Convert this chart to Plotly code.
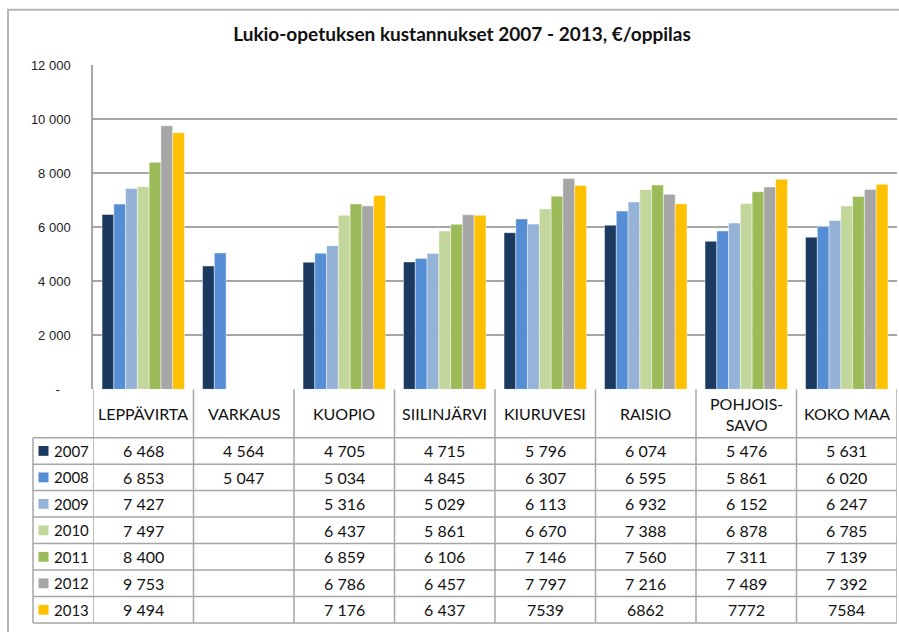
import plotly.graph_objects as go

# ---------------- data ----------------
categories = ["LEPPÄVIRTA", "VARKAUS", "KUOPIO", "SIILINJÄRVI", "KIURUVESI",
              "RAISIO", "POHJOIS-SAVO", "KOKO MAA"]
header_labels = ["LEPPÄVIRTA", "VARKAUS", "KUOPIO", "SIILINJÄRVI", "KIURUVESI",
                 "RAISIO", "POHJOIS-<br>SAVO", "KOKO MAA"]
years = ["2007", "2008", "2009", "2010", "2011", "2012", "2013"]

v2007 = [6468, 4564, 4705, 4715, 5796, 6074, 5476, 5631]
v2008 = [6853, 5047, 5034, 4845, 6307, 6595, 5861, 6020]
v2009 = [7427, None, 5316, 5029, 6113, 6932, 6152, 6247]
v2010 = [7497, None, 6437, 5861, 6670, 7388, 6878, 6785]
v2011 = [8400, None, 6859, 6106, 7146, 7560, 7311, 7139]
v2012 = [9753, None, 6786, 6457, 7797, 7216, 7489, 7392]
v2013 = [9494, None, 7176, 6437, 7539, 6862, 7772, 7584]
series = [v2007, v2008, v2009, v2010, v2011, v2012, v2013]

# cells of the 2013 row printed without thousands separator in the original
plain_2013 = ["KIURUVESI", "RAISIO", "POHJOIS-SAVO", "KOKO MAA"]

y_tickvals = [0, 2000, 4000, 6000, 8000, 10000, 12000]
y_ticktext = ["-\u00a0\u00a0\u00a0", "2 000", "4 000", "6 000", "8 000", "10 000", "12 000"]

title_text = "Lukio-opetuksen kustannukset 2007 - 2013, €/oppilas"

colors = ["#1B3A5F", "#558ED5", "#95B3D7", "#C3D69B", "#9BBB59", "#A6A6A6", "#FFC000"]

# ---------------- layout geometry (pixels) ----------------
W, H = 899, 632
ML, MR, MT, MB = 93, 2, 65, 0
PW, PH = W - ML - MR, H - MT - MB
PLOT_BOTTOM = 394


def py(p):  # pixel y -> paper y
    return (H - MB - p) / PH


def px(p):  # pixel x -> paper x
    return (p - ML) / PW


HEADER_BOTTOM = 443
ROW_H = (631 - 443) / 7
TABLE_BOTTOM = 631
LEG_LEFT = 33
GRID = "#A6A6A6"
FONT_T = "Lato, 'Noto Sans', sans-serif"


def fmt(v, plain=False):
    if v is None:
        return ""
    if plain:
        return str(v)
    return f"{v:,}".replace(",", " ")


fig = go.Figure()
for yr, vals, c in zip(years, series, colors):
    fig.add_trace(go.Bar(
        x=categories, y=vals, name=yr,
        marker=dict(color=c, line=dict(color="rgba(255,255,255,0.55)", width=0.8)),
        showlegend=False,
    ))

shapes = []
annotations = []

# outer border
shapes.append(dict(type="rect", xref="paper", yref="paper",
                   x0=px(8), x1=px(910), y0=py(9), y1=py(660),
                   line=dict(color="#B5B5B5", width=2), layer="below"))

# table vertical lines at category boundaries
for i in range(len(categories) + 1):
    shapes.append(dict(type="line", xref="x", yref="paper",
                       x0=i - 0.5, x1=i - 0.5, y0=py(PLOT_BOTTOM), y1=py(TABLE_BOTTOM),
                       line=dict(color=GRID, width=1.5)))
# legend column lines
shapes.append(dict(type="line", xref="paper", yref="paper",
                   x0=px(LEG_LEFT), x1=px(LEG_LEFT), y0=py(HEADER_BOTTOM), y1=py(TABLE_BOTTOM),
                   line=dict(color=GRID, width=1.5)))
# horizontal row lines
for r in range(len(years) + 1):
    yy = HEADER_BOTTOM + r * ROW_H
    shapes.append(dict(type="line", xref="paper", yref="paper",
                       x0=px(LEG_LEFT), x1=1, y0=py(yy), y1=py(yy),
                       line=dict(color=GRID, width=1.5)))

# header labels
for cat, lab in zip(categories, header_labels):
    annotations.append(dict(x=cat, xref="x", y=py((PLOT_BOTTOM + HEADER_BOTTOM) / 2), yref="paper",
                            text=lab, showarrow=False, xanchor="center", yanchor="middle",
                            font=dict(family=FONT_T, size=16, color="#111")))

# rows
for r, (yr, vals, c) in enumerate(zip(years, series, colors)):
    yc = HEADER_BOTTOM + (r + 0.5) * ROW_H
    shapes.append(dict(type="rect", xref="paper", yref="paper",
                       x0=px(38.5), x1=px(48.5), y0=py(yc - 5), y1=py(yc + 5),
                       fillcolor=c, line=dict(width=0)))
    annotations.append(dict(x=px(52), xref="paper", y=py(yc), yref="paper",
                            text=yr, showarrow=False, xanchor="left", yanchor="middle",
                            font=dict(family=FONT_T, size=15, color="#111")))
    for cat, v in zip(categories, vals):
        plain = (yr == "2013" and cat in plain_2013)
        annotations.append(dict(x=cat, xref="x", y=py(yc), yref="paper",
                                text=fmt(v, plain), showarrow=False,
                                xanchor="center", yanchor="middle",
                                font=dict(family=FONT_T, size=16, color="#111")))

fig.update_layout(
    width=W, height=H, autosize=False,
    margin=dict(l=ML, r=MR, t=MT, b=MB, pad=0),
    paper_bgcolor="white", plot_bgcolor="white",
    barmode="group", bargap=0.18, bargroupgap=0,
    title=dict(text=title_text, x=(462 - ML) / PW, xref="paper", xanchor="center",
               y=1 - 34 / H, yanchor="middle",
               font=dict(family=FONT_T, size=19, color="#111", weight="bold")),
    xaxis=dict(showticklabels=False, showgrid=False, zeroline=False,
               showline=False, range=[-0.5, len(categories) - 0.5], fixedrange=True),
    yaxis=dict(domain=[py(PLOT_BOTTOM), 1], range=[0, 12000],
               tickvals=y_tickvals, ticktext=y_ticktext,
               showgrid=True, gridcolor=GRID, gridwidth=1.5,
               zeroline=False, showline=True, linecolor=GRID, linewidth=1.5,
               ticks="", ticklabelstandoff=18,
               tickfont=dict(family="'Liberation Sans', Arial, sans-serif", size=13, color="#222"),
               fixedrange=True),
    shapes=shapes, annotations=annotations,
)

fig.write_html("out.html", config={"displayModeBar": False},
               post_script="document.body.style.margin='0';document.body.style.overflow='hidden';")
